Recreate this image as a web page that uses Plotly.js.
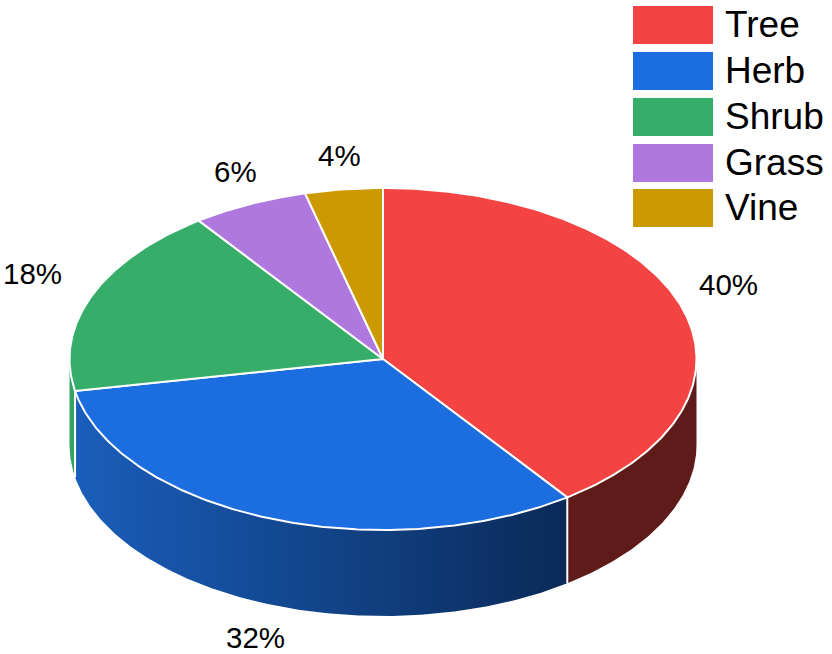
<!DOCTYPE html>
<html>
<head>
<meta charset="utf-8">
<script src="https://cdn.plot.ly/plotly-3.0.1.min.js"></script>
<style>html,body{margin:0;padding:0;background:#fff}</style>
</head>
<body>
<div id="chart" style="width:832px;height:654px"></div>
<script>
const categories = ["Tree", "Herb", "Shrub", "Grass", "Vine"];
const percents = [40, 32, 18, 6, 4];
const colors = ["#F44343", "#1B6DE0", "#36AE6A", "#AF78DF", "#CC9900"];
const labelX = [728.5, 255.5, 32.5, 235.5, 339];
const labelY = [284.5, 637.5, 273.5, 171.5, 155.5];
const legendY = [25, 71, 117, 163, 208];

const cx = 383, cy = 359, rx = 313.5, ry = 171, depth = 86;
const total = percents.reduce((a, b) => a + b, 0);

function arc(a0, a1, dy) {
  const xs = [], ys = [], n = Math.max(2, Math.ceil((a1 - a0) / 0.01));
  for (let i = 0; i <= n; i++) {
    const a = a0 + (a1 - a0) * i / n;
    xs.push(cx + rx * Math.sin(a));
    ys.push(cy - ry * Math.cos(a) + dy);
  }
  return [xs, ys];
}

const edges = [0];
percents.forEach((p, i) => edges.push(edges[i] + p / total * 2 * Math.PI));

const traces = [];
function sideTrace(a0, a1, style) {
  const [tx, ty] = arc(a0, a1, 0);
  const [bx, by] = arc(a0, a1, depth);
  traces.push(Object.assign({
    type: "scatter", mode: "lines", hoverinfo: "skip", showlegend: false,
    x: tx.concat(bx.reverse()), y: ty.concat(by.reverse()),
    fill: "toself", line: {width: 0}
  }, style));
}
sideTrace(Math.PI / 2, edges[1], {fillcolor: "#5F1A1A"});
sideTrace(edges[1], edges[2], {
  fillcolor: "#1B5CB8",
  fillgradient: {type: "horizontal", colorscale: [[0, "#1A5EBB"], [1, "#0A2A58"]]}
});
sideTrace(edges[2], 3 * Math.PI / 2, {fillcolor: "#36A263"});

[edges[1], edges[2]].forEach(a => {
  const [x, y] = arc(a, a, 0);
  traces.push({
    type: "scatter", mode: "lines", hoverinfo: "skip", showlegend: false,
    x: [x[0], x[0]], y: [y[0], y[0] + depth],
    line: {color: "#FFFFFF", width: 2}
  });
});

categories.forEach((name, i) => {
  const [x, y] = arc(edges[i], edges[i + 1], 0);
  traces.push({
    type: "scatter", mode: "lines", name: name,
    x: [cx].concat(x, [cx]), y: [cy].concat(y, [cy]),
    fill: "toself", fillcolor: colors[i],
    line: {color: "#FFFFFF", width: 2},
    showlegend: false, hovertemplate: name + ": " + percents[i] + "%<extra></extra>"
  });
});

const annotations = [], shapes = [];
percents.forEach((p, i) => annotations.push({
  xref: "x", yref: "y", x: labelX[i], y: labelY[i], text: p + "%", showarrow: false,
  xanchor: "center", yanchor: "middle",
  font: {family: "Liberation Sans", size: 29.5, color: "#000"}
}));
categories.forEach((name, i) => {
  shapes.push({
    type: "rect", xref: "x", yref: "y", x0: 633, x1: 713,
    y0: legendY[i] - 19, y1: legendY[i] + 19,
    fillcolor: colors[i], line: {width: 0}
  });
  annotations.push({
    xref: "x", yref: "y", x: 723, y: legendY[i] - 1, text: name, showarrow: false,
    xanchor: "left", yanchor: "middle",
    font: {family: "Liberation Sans", size: 37, color: "#000"}
  });
});

Plotly.newPlot("chart", traces, {
  width: 832, height: 654,
  margin: {l: 0, r: 0, t: 0, b: 0},
  paper_bgcolor: "#fff", plot_bgcolor: "#fff",
  showlegend: false,
  xaxis: {range: [0, 832], visible: false, fixedrange: true},
  yaxis: {range: [654, 0], visible: false, fixedrange: true},
  annotations: annotations, shapes: shapes
}, {displayModeBar: false, staticPlot: true});
</script>
</body>
</html>
